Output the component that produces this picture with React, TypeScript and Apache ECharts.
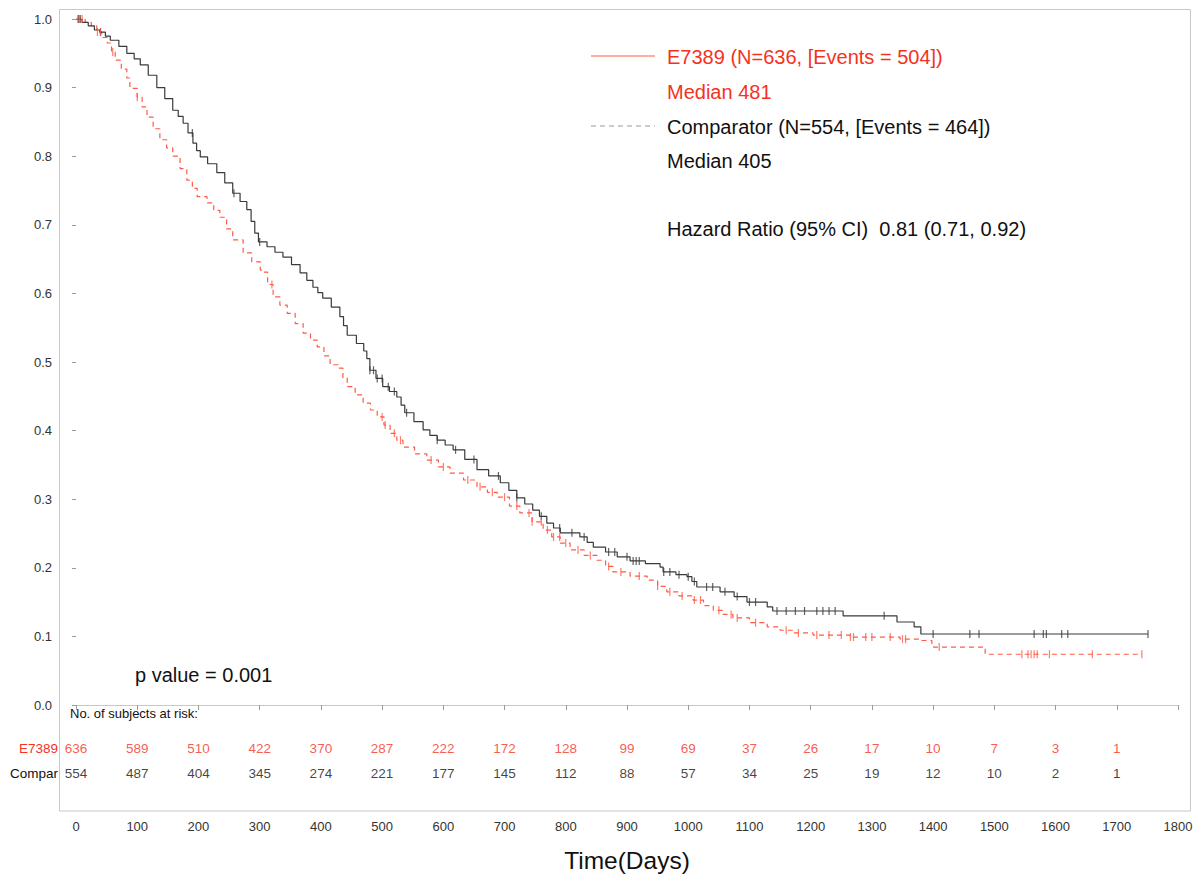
import React, { useEffect, useRef } from "react";
import * as echarts from "echarts";

const xTicks = [0, 100, 200, 300, 400, 500, 600, 700, 800, 900, 1000, 1100, 1200, 1300, 1400, 1500, 1600, 1700, 1800];
const yTickLabels = ["0.0", "0.1", "0.2", "0.3", "0.4", "0.5", "0.6", "0.7", "0.8", "0.9", "1.0"];

// black solid curve (upper)
const blackDays = [0, 10, 20, 30, 39, 48, 56, 70, 83, 95, 105, 118, 132, 145, 158, 167, 175, 183, 191, 197, 203, 215, 230, 243, 256, 268, 279, 286, 292, 298, 312, 325, 338, 352, 366, 377, 387, 395, 403, 417, 431, 437, 443, 458, 470, 475, 480, 490, 501, 512, 524, 531, 537, 552, 567, 578, 590, 603, 616, 635, 655, 674, 693, 707, 720, 733, 746, 757, 769, 780, 791, 823, 835, 845, 865, 884, 905, 930, 954, 959, 980, 998, 1006, 1014, 1052, 1075, 1096, 1129, 1138, 1253, 1341, 1369, 1380, 1751];
const blackSurv = [1.0, 0.995, 0.99, 0.984, 0.981, 0.975, 0.969, 0.96, 0.95, 0.942, 0.933, 0.918, 0.9, 0.884, 0.867, 0.858, 0.848, 0.834, 0.819, 0.808, 0.799, 0.789, 0.776, 0.761, 0.746, 0.734, 0.722, 0.705, 0.688, 0.675, 0.668, 0.66, 0.653, 0.642, 0.63, 0.619, 0.609, 0.601, 0.593, 0.58, 0.566, 0.553, 0.539, 0.527, 0.516, 0.505, 0.488, 0.476, 0.464, 0.457, 0.449, 0.437, 0.426, 0.413, 0.401, 0.393, 0.386, 0.379, 0.372, 0.358, 0.343, 0.334, 0.324, 0.313, 0.302, 0.293, 0.284, 0.275, 0.265, 0.258, 0.251, 0.245, 0.237, 0.23, 0.223, 0.216, 0.21, 0.206, 0.201, 0.194, 0.19, 0.187, 0.18, 0.172, 0.165, 0.158, 0.15, 0.143, 0.137, 0.13, 0.121, 0.114, 0.1035, 0.1035];

// red dashed curve (lower)
const redDays = [0, 15, 25, 34, 42, 51, 58, 64, 74, 83, 88, 100, 108, 116, 126, 137, 148, 158, 170, 181, 190, 198, 214, 225, 235, 246, 256, 273, 287, 301, 305, 313, 322, 333, 345, 358, 371, 383, 394, 405, 415, 428, 436, 443, 456, 469, 481, 492, 503, 513, 524, 534, 553, 573, 592, 611, 633, 655, 672, 688, 708, 725, 745, 763, 777, 791, 807, 830, 851, 865, 877, 905, 933, 950, 965, 985, 1008, 1025, 1041, 1057, 1073, 1100, 1129, 1150, 1171, 1204, 1264, 1346, 1379, 1398, 1485, 1741];
const redSurv = [1.0, 0.995, 0.99, 0.981, 0.973, 0.965, 0.952, 0.94, 0.927, 0.914, 0.899, 0.886, 0.872, 0.857, 0.84, 0.824, 0.812, 0.8, 0.782, 0.765, 0.753, 0.741, 0.732, 0.721, 0.711, 0.694, 0.678, 0.659, 0.646, 0.634, 0.631, 0.613, 0.595, 0.583, 0.571, 0.556, 0.542, 0.532, 0.522, 0.509, 0.496, 0.491, 0.477, 0.464, 0.452, 0.44, 0.43, 0.42, 0.408, 0.396, 0.386, 0.376, 0.366, 0.357, 0.347, 0.338, 0.328, 0.318, 0.31, 0.303, 0.29, 0.28, 0.267, 0.255, 0.245, 0.236, 0.226, 0.218, 0.211, 0.202, 0.194, 0.188, 0.182, 0.173, 0.165, 0.159, 0.153, 0.145, 0.138, 0.132, 0.127, 0.12, 0.114, 0.109, 0.105, 0.102, 0.099, 0.096, 0.094, 0.0845, 0.074, 0.074];

// censoring times
const blackCensor = [4, 7, 40, 190, 258, 300, 480, 486, 492, 500, 510, 520, 540, 590, 620, 650, 690, 720, 760, 790, 810, 830, 870, 880, 900, 910, 915, 920, 960, 970, 985, 1000, 1010, 1030, 1040, 1060, 1080, 1100, 1110, 1145, 1160, 1175, 1190, 1210, 1220, 1230, 1240, 1320, 1400, 1460, 1475, 1565, 1580, 1585, 1610, 1620, 1751];
const redCensor = [3, 6, 10, 35, 40, 60, 100, 320, 500, 505, 520, 530, 580, 600, 640, 660, 680, 700, 720, 740, 745, 760, 770, 780, 790, 800, 820, 840, 870, 890, 920, 950, 970, 990, 1010, 1020, 1050, 1070, 1080, 1110, 1160, 1180, 1210, 1230, 1250, 1265, 1270, 1290, 1300, 1330, 1350, 1355, 1410, 1545, 1555, 1560, 1565, 1570, 1590, 1660, 1741];

// numbers at risk
const riskDays = [0, 100, 200, 300, 400, 500, 600, 700, 800, 900, 1000, 1100, 1200, 1300, 1400, 1500, 1600, 1700];
const riskE7389 = [636, 589, 510, 422, 370, 287, 222, 172, 128, 99, 69, 37, 26, 17, 10, 7, 3, 1];
const riskCompar = [554, 487, 404, 345, 274, 221, 177, 145, 112, 88, 57, 34, 25, 19, 12, 10, 2, 1];
const riskRows = ["E7389", "Compar"];

const RED_TEXT = "#f5321e";
const RED_LINE = "#ff5a45";
const BLACK_LINE = "#3a3a3a";
const FONT = "'Liberation Sans', Arial, sans-serif";

function lookup(days: number[], surv: number[], t: number) {
  let v = surv[0];
  for (let i = 0; i < days.length; i++) {
    if (days[i] <= t) v = surv[i];
    else break;
  }
  return v;
}

export default function App() {
  const ref = useRef<HTMLDivElement>(null);
  useEffect(() => {
    if (!ref.current) return;
    const chart = echarts.init(ref.current, null, { renderer: "svg" });
    const blackData = blackDays.map((d, i) => [d, blackSurv[i]]);
    const redData = redDays.map((d, i) => [d, redSurv[i]]);
    const blackCens = blackCensor.map((d) => [d, lookup(blackDays, blackSurv, d)]);
    const redCens = redCensor.map((d) => [d, lookup(redDays, redSurv, d)]);
    const riskE = riskDays.map((d, i) => [d, "E7389", riskE7389[i]]);
    const riskC = riskDays.map((d, i) => [d, "Compar", riskCompar[i]]);

    const option: any = {
      animation: false,
      backgroundColor: "#ffffff",
      textStyle: { fontFamily: FONT },
      grid: [
        { left: 76, right: 21, top: 19, bottom: 173 },
        { left: 76, right: 21, top: 735.5, height: 50 },
      ],
      xAxis: [
        {
          type: "value",
          gridIndex: 0,
          min: 0,
          max: 1800,
          interval: 100,
          offset: 106,
          axisLine: { show: true, lineStyle: { color: "#c8c8c8", width: 1 } },
          axisTick: { show: true, length: 5, lineStyle: { color: "#9a9a9a" } },
          axisLabel: {
            color: "#333",
            fontSize: 13,
            margin: 9,
            fontFamily: FONT,
            formatter: (v: number) => (xTicks.indexOf(v) >= 0 ? String(v) : ""),
          },
          splitLine: { show: false },
          name: "Time(Days)",
          nameLocation: "middle",
          nameGap: 37,
          nameTextStyle: { fontSize: 24.5, color: "#111", fontFamily: FONT },
        },
        { type: "value", gridIndex: 1, min: 0, max: 1800, show: false },
      ],
      yAxis: [
        {
          type: "value",
          gridIndex: 0,
          min: 0,
          max: 1,
          interval: 0.1,
          offset: 16,
          axisLine: { show: false },
          axisTick: { show: true, length: 4, lineStyle: { color: "#9a9a9a" } },
          axisLabel: {
            color: "#333",
            fontSize: 13,
            margin: 8,
            fontFamily: FONT,
            formatter: (v: number) => yTickLabels[Math.round(v * 10)] ?? "",
          },
          splitLine: { show: false },
        },
        {
          type: "category",
          gridIndex: 1,
          data: riskRows,
          inverse: true,
          axisLine: { show: false },
          axisTick: { show: false },
          axisLabel: {
            margin: 18,
            fontSize: 13.5,
            fontFamily: FONT,
            formatter: (v: string) => (v === "E7389" ? `{r|${v}}` : `{k|${v}}`),
            rich: {
              r: { color: RED_TEXT, fontSize: 13.5, fontFamily: FONT },
              k: { color: "#111", fontSize: 13.5, fontFamily: FONT },
            },
          },
          splitLine: { show: false },
        },
      ],
      series: [
        {
          type: "line",
          name: "black",
          xAxisIndex: 0,
          yAxisIndex: 0,
          data: blackData,
          step: "end",
          symbol: "none",
          lineStyle: { color: BLACK_LINE, width: 1.2 },
          z: 3,
        },
        {
          type: "line",
          name: "red",
          xAxisIndex: 0,
          yAxisIndex: 0,
          data: redData,
          step: "end",
          symbol: "none",
          lineStyle: { color: RED_LINE, width: 1.2, type: [5, 4] },
          z: 2,
        },
        {
          type: "scatter",
          xAxisIndex: 0,
          yAxisIndex: 0,
          data: blackCens,
          symbol: "rect",
          symbolSize: [1.2, 8],
          itemStyle: { color: BLACK_LINE },
          z: 4,
        },
        {
          type: "scatter",
          xAxisIndex: 0,
          yAxisIndex: 0,
          data: redCens,
          symbol: "rect",
          symbolSize: [1.2, 8],
          itemStyle: { color: RED_LINE },
          z: 4,
        },
        {
          type: "scatter",
          xAxisIndex: 1,
          yAxisIndex: 1,
          data: riskE,
          symbolSize: 1,
          itemStyle: { color: "rgba(0,0,0,0)" },
          label: {
            show: true,
            position: "inside",
            formatter: (p: any) => String(p.value[2]),
            color: RED_TEXT,
            fontSize: 13.5,
            fontFamily: FONT,
          },
        },
        {
          type: "scatter",
          xAxisIndex: 1,
          yAxisIndex: 1,
          data: riskC,
          symbolSize: 1,
          itemStyle: { color: "rgba(0,0,0,0)" },
          label: {
            show: true,
            position: "inside",
            formatter: (p: any) => String(p.value[2]),
            color: "#111",
            fontSize: 13.5,
            fontFamily: FONT,
          },
        },
      ],
      graphic: [
        {
          type: "rect",
          shape: { x: 59.5, y: 9.5, width: 1131, height: 801.5 },
          style: { fill: "none", stroke: "#c8c8c8", lineWidth: 1 },
          silent: true,
        },
        {
          type: "line",
          shape: { x1: 591, y1: 56, x2: 655, y2: 56 },
          style: { stroke: RED_LINE, lineWidth: 1.2 },
        },
        {
          type: "line",
          shape: { x1: 591, y1: 126, x2: 655, y2: 126 },
          style: { stroke: "#9a9a9a", lineWidth: 1.2, lineDash: [5, 4] },
        },
        {
          type: "text",
          x: 667,
          y: 57,
          style: { text: "E7389 (N=636, [Events = 504])", fill: RED_TEXT, font: `20px ${FONT}`, verticalAlign: "middle" },
        },
        {
          type: "text",
          x: 667,
          y: 92,
          style: { text: "Median 481", fill: RED_TEXT, font: `20px ${FONT}`, verticalAlign: "middle" },
        },
        {
          type: "text",
          x: 667,
          y: 127,
          style: { text: "Comparator (N=554, [Events = 464])", fill: "#111", font: `20px ${FONT}`, verticalAlign: "middle" },
        },
        {
          type: "text",
          x: 667,
          y: 161,
          style: { text: "Median 405", fill: "#111", font: `20px ${FONT}`, verticalAlign: "middle" },
        },
        {
          type: "text",
          x: 667,
          y: 229,
          style: { text: "Hazard Ratio (95% CI)  0.81 (0.71, 0.92)", fill: "#111", font: `20px ${FONT}`, verticalAlign: "middle" },
        },
        {
          type: "text",
          x: 135,
          y: 675,
          style: { text: "p value = 0.001", fill: "#111", font: `20px ${FONT}`, verticalAlign: "middle" },
        },
        {
          type: "text",
          x: 70,
          y: 713,
          style: { text: "No. of subjects at risk:", fill: "#111", font: `13px ${FONT}`, verticalAlign: "middle" },
        },
      ],
    };
    chart.setOption(option);
    return () => chart.dispose();
  }, []);
  return (
    <div
      ref={ref}
      style={{ position: "fixed", left: 0, top: 0, width: 1199, height: 878, background: "#fff" }}
    />
  );
}
